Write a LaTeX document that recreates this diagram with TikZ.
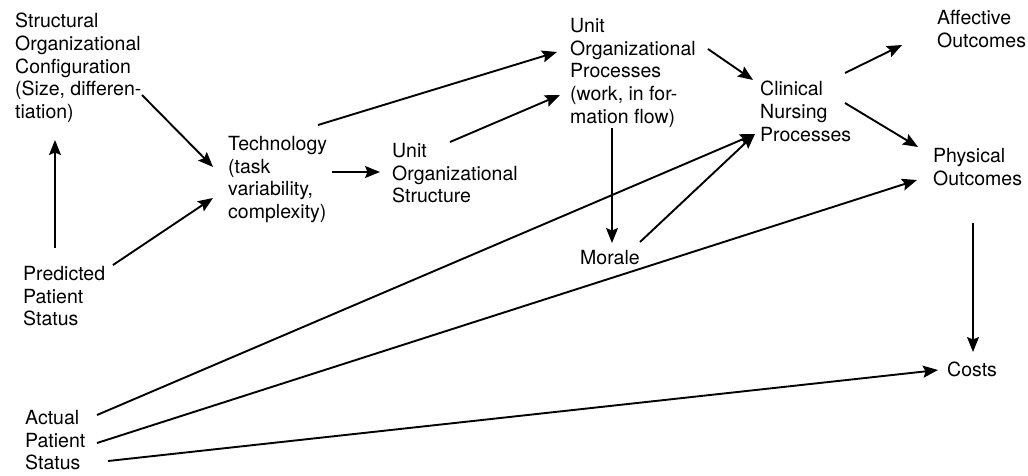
\documentclass[tikz,border=0pt]{standalone}
\usepackage{fontspec}
\setmainfont{TeX Gyre Heros}
\usetikzlibrary{arrows.meta}
\begin{document}
\begin{tikzpicture}[x=1pt,y=-1pt,
  label/.style={anchor=north west,inner sep=0pt,align=left,
    font=\fontsize{19.5}{22.7}\selectfont},
  arr/.style={line width=1.9pt,-{Stealth[length=15pt,width=12pt,inset=2.5pt]}},
  varr/.style={line width=1.3pt,-{Stealth[length=15pt,width=12pt,inset=2.5pt]}}]
\useasboundingbox (0,0) rectangle (1028,475);

% concepts of the model
\node[label] (struct) at (15,13) {Structural\\Organizational\\Configuration\\(Size, differen-\\tiation)};
\node[label] (tech)   at (228,136) {Technology\\(task\\variability,\\complexity)};
\node[label] (uos)    at (392,143) {Unit\\Organizational\\Structure};
\node[label] (uop)    at (570,18) {Unit\\Organizational\\Processes\\(work, in for-\\mation flow)};
\node[label] (cnp)    at (760,81) {Clinical\\Nursing\\Processes};
\node[label] (affect) at (937,10) {Affective\\Outcomes};
\node[label] (phys)   at (933,148) {Physical\\Outcomes};
\node[label] (morale) at (580,250) {Morale};
\node[label] (costs)  at (947,362) {Costs};
\node[label] (pred)   at (23,266) {Predicted\\Patient\\Status};
\node[label] (actual) at (25,410) {Actual\\Patient\\Status};

% causal paths
\draw[arr]  ([shift={(127,82)}]struct.north west) -- ([shift={(-15,31)}]tech.north west);
\draw[varr] ([shift={(32,-18)}]pred.north west)   -- ([shift={(40,127)}]struct.north west);
\draw[arr]  ([shift={(90,-1)}]pred.north west)    -- ([shift={(-15,62)}]tech.north west);
\draw[arr]  ([shift={(104,36)}]tech.north west)   -- ([shift={(-12,29)}]uos.north west);
\draw[arr]  ([shift={(90,-11)}]tech.north west)   -- ([shift={(-13,34)}]uop.north west);
\draw[arr]  ([shift={(58,-1)}]uos.north west)     -- ([shift={(-10,77)}]uop.north west);
\draw[arr]  ([shift={(138,31)}]uop.north west)    -- ([shift={(-7,-1)}]cnp.north west);
\draw[varr] ([shift={(42,110)}]uop.north west)    -- ([shift={(32,-7)}]morale.north west);
\draw[arr]  ([shift={(60,-8)}]morale.north west)  -- ([shift={(-5,53)}]cnp.north west);
\draw[arr]  ([shift={(72,5)}]actual.north west)   -- ([shift={(-5,53)}]cnp.north west);
\draw[arr]  ([shift={(72,33)}]actual.north west)  -- ([shift={(-16,32)}]phys.north west);
\draw[arr]  ([shift={(83,51)}]actual.north west)  -- ([shift={(-9,8)}]costs.north west);
\draw[arr]  ([shift={(85,-8)}]cnp.north west)     -- ([shift={(-35,35)}]affect.north west);
\draw[arr]  ([shift={(85,22)}]cnp.north west)     -- ([shift={(-15,-1)}]phys.north west);
\draw[varr] ([shift={(40,75)}]phys.north west)    -- ([shift={(26,-10)}]costs.north west);
\end{tikzpicture}
\end{document}
